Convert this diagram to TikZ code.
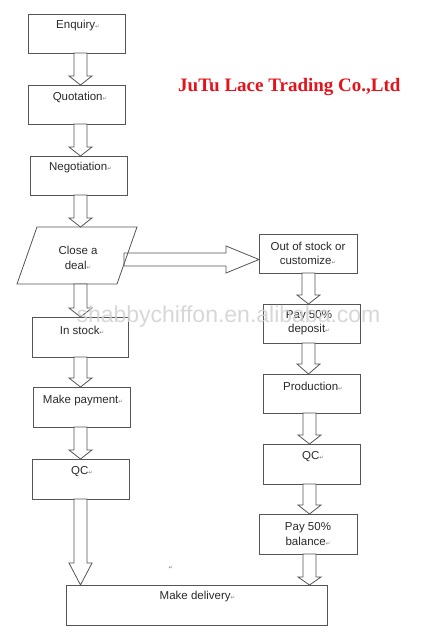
\documentclass[tikz,border=0pt]{standalone}
\usepackage{fontspec}
\setmainfont{Liberation Sans}
\newfontfamily\titlefont{Liberation Serif}
\newfontfamily\retfont{DejaVu Sans}
\newfontfamily\wmfont[Ligatures={NoCommon}]{Liberation Sans}
\usetikzlibrary{calc}
\definecolor{edge}{HTML}{555555}
\definecolor{ink}{HTML}{2A2A2A}
\definecolor{titlered}{HTML}{E3121B}
\newcommand\retmark{{\retfont\fontsize{5.5pt}{6pt}\selectfont\textcolor{black!50}{↵}}}
% hollow down arrow: from node, to node, x (pt), head length (pt)
\newcommand\varrow[4]{%
  \draw[hollow] let \p1=(#1.south), \p2=(#2.north) in
  (#3pt-6.5pt,\y1) -- (#3pt+6.5pt,\y1) -- (#3pt+6.5pt,\y2+#4pt) -- (#3pt+11.5pt,\y2+#4pt)
  -- (#3pt,\y2) -- (#3pt-11.5pt,\y2+#4pt) -- (#3pt-6.5pt,\y2+#4pt) -- cycle;}
\tikzset{
  box/.style={draw=edge, line width=0.8pt, anchor=north west, inner sep=0pt, outer sep=0pt},
  lbl/.style={font=\fontsize{11.5pt}{14.5pt}\selectfont, text=ink, align=center, inner sep=0pt},
  hollow/.style={draw=edge, line width=0.8pt, fill=white, line join=miter}
}
\begin{document}
\begin{tikzpicture}[x=1pt,y=-1pt]
\useasboundingbox (0,0) rectangle (423,644);
\fill[white] (0,0) rectangle (423,644);
% boxes
\node[box, minimum width=97, minimum height=39] (enq) at (28,14) {};
\node[box, minimum width=97, minimum height=39] (quo) at (28,85) {};
\node[box, minimum width=97, minimum height=39] (neg) at (30,156) {};
\node[anchor=north west, minimum width=120, minimum height=57, inner sep=0pt, outer sep=0pt] (deal) at (17,227) {};
\node[box, minimum width=98, minimum height=39] (out) at (259,234) {};
\node[box, minimum width=96, minimum height=40] (ins) at (32,317) {};
\node[box, minimum width=97, minimum height=39] (dep) at (263,304) {};
\node[box, minimum width=97, minimum height=39] (pro) at (263,374) {};
\node[box, minimum width=97, minimum height=40] (pay) at (33,387) {};
\node[box, minimum width=97, minimum height=40] (qcl) at (32,459) {};
\node[box, minimum width=97, minimum height=40] (qcr) at (263,444) {};
\node[box, minimum width=98, minimum height=40] (bal) at (259,514) {};
\node[box, minimum width=261, minimum height=40] (del) at (66,585) {};
% horizontal arrow
\coordinate (hs) at (124,259.5);
\draw[hollow] let \p1=(hs), \p2=(out.west) in
  (\x1,\y1+6.5pt) -- (\x2-33pt,\y1+6.5pt) -- (\x2-33pt,\y1+13.5pt) -- (\x2,\y1)
  -- (\x2-33pt,\y1-13.5pt) -- (\x2-33pt,\y1-6.5pt) -- (\x1,\y1-6.5pt) -- cycle;
% parallelogram
\draw[draw=edge, line width=0.8pt, line join=miter] (deal.south west) -- ([xshift=20pt]deal.north west)
  -- (deal.north east) -- ([xshift=-20pt]deal.south east) -- cycle;
% vertical arrows
\varrow{enq}{quo}{80.5}{9}
\varrow{quo}{neg}{80.5}{9}
\varrow{neg}{deal}{80.5}{9}
\varrow{deal}{ins}{80.5}{9}
\varrow{ins}{pay}{80.5}{9}
\varrow{pay}{qcl}{80.5}{9}
\varrow{qcl}{del}{80.5}{22}
\varrow{out}{dep}{308.5}{9}
\varrow{dep}{pro}{308.5}{10}
\varrow{pro}{qcr}{309.5}{9}
\varrow{qcr}{bal}{309.5}{9}
\varrow{bal}{del}{309.5}{8}
% labels
\node[lbl] (enqt) at (78,26) {Enquiry\retmark};
\node[lbl] (quot) at (80,97) {Quotation\retmark};
\node[lbl] (negt) at (80.5,168) {Negotiation\retmark};
\node[lbl] (dealt) at (78,258) {Close a\\deal\retmark};
\node[lbl] (outt) at (308,253.5) {Out of stock or\\customize\retmark};
\node[lbl] (dept) at (309,322.5) {Pay 50\%\\deposit\retmark};
\node[lbl] (prot) at (313,386) {Production\retmark};
\node[lbl] (inst) at (82,330) {In stock\retmark};
\node[lbl] (payt) at (83,401) {Make payment\retmark};
\node[lbl] (qclt) at (82,472) {QC\retmark};
\node[lbl] (qcrt) at (313,457) {QC\retmark};
\node[lbl] (balt) at (308,534) {Pay 50\%\\balance\retmark};
\node[lbl] (delt) at (197.5,597) {Make delivery\retmark};
\node[inner sep=0pt] (stray) at (171,568) {\retmark};
% title
\node[anchor=base west, font=\titlefont\bfseries\fontsize{19pt}{22pt}\selectfont, text=titlered, inner sep=0pt] (title) at (178,92) {JuTu Lace Trading Co.,Ltd};
% watermark
\node[anchor=base, font=\wmfont\fontsize{23pt}{26pt}\selectfont, text=black!18, text opacity=0.85, inner sep=0pt] (wm) at (228.5,322) {shabbychiffon.en.alibaba.com};
\end{tikzpicture}
\end{document}
